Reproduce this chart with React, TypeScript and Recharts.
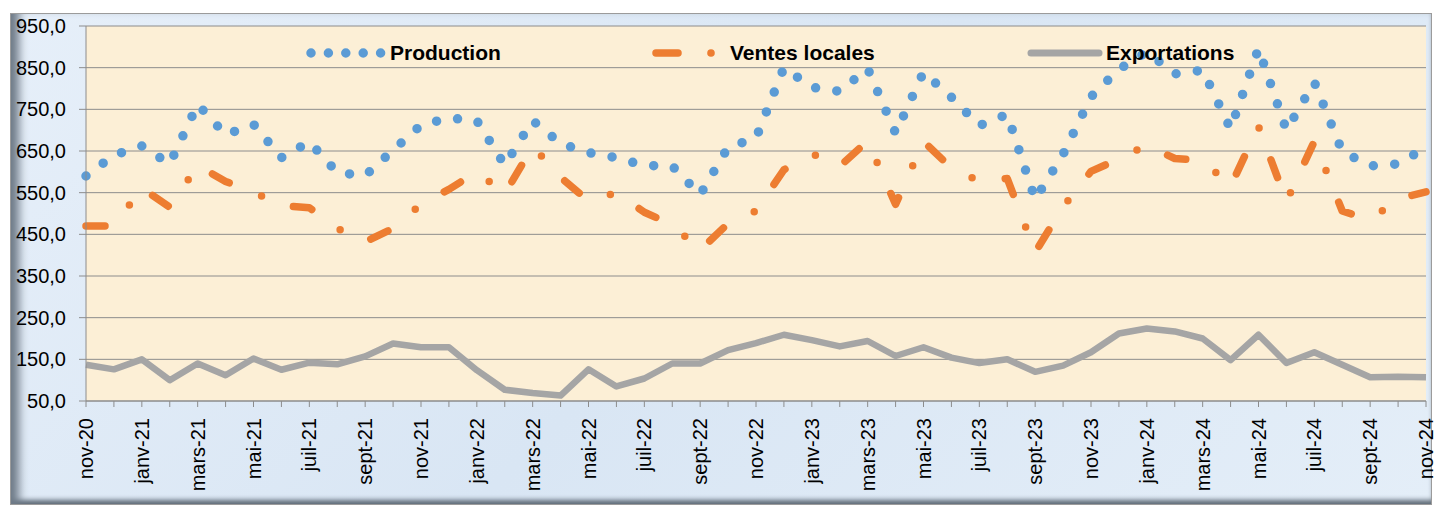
import React from "react";
import { LineChart, Line, XAxis, YAxis, CartesianGrid } from "recharts";

const months = [
  "nov-20", "déc-20", "janv-21", "févr-21", "mars-21", "avr-21", "mai-21", "juin-21", "juil-21", "août-21",
  "sept-21", "oct-21", "nov-21", "déc-21", "janv-22", "févr-22", "mars-22", "avr-22", "mai-22", "juin-22",
  "juil-22", "août-22", "sept-22", "oct-22", "nov-22", "déc-22", "janv-23", "févr-23", "mars-23", "avr-23",
  "mai-23", "juin-23", "juil-23", "août-23", "sept-23", "oct-23", "nov-23", "déc-23", "janv-24", "févr-24",
  "mars-24", "avr-24", "mai-24", "juin-24", "juil-24", "août-24", "sept-24", "oct-24", "nov-24",
];

const production = [
  590, 640, 662, 619, 762, 689, 714, 634, 672, 598,
  591, 652, 712, 729, 723, 616, 723, 668, 646, 634,
  615, 614, 545, 659, 681, 850, 803, 793, 848, 693,
  839, 779, 711, 738, 534, 642, 780, 846, 888, 835,
  844, 703, 896, 700, 815, 649, 614, 619, 658,
];

const ventesLocales = [
  470, 470, 561, 515, 615, 577, 551, 519, 514, 464,
  432, 464, 522, 558, 600, 547, 661, 587, 530, 550,
  503, 473, 412, 476, 506, 605, 644, 613, 674, 522,
  673, 609, 578, 584, 407, 516, 601, 631, 664, 632,
  628, 565, 709, 529, 673, 506, 485, 535, 552,
];

const exportations = [
  137, 126, 150, 100, 140, 112, 152, 125, 142, 138,
  157, 188, 179, 179, 124, 77, 69, 63, 126, 85,
  104, 140, 140, 172, 189, 209, 196, 181, 194, 158,
  179, 154, 141, 150, 120, 135, 167, 212, 224, 217,
  200, 148, 209, 141, 167, 137, 107, 108, 107,
];

const yTicks = [50, 150, 250, 350, 450, 550, 650, 750, 850, 950];

const FONT = "'Liberation Sans', Arial, sans-serif";
const BLUE = "#5b9bd5";
const ORANGE = "#ed7d31";
const GRAY = "#a5a5a5";

const data = months.map((m, i) => ({
  month: m,
  production: production[i],
  ventes: ventesLocales[i],
  exportations: exportations[i],
}));

// rotated month labels, only every second month gets text
function MonthTick(props: any) {
  const { x, y, payload, index } = props;
  if (index % 2 !== 0) return <g />;
  const ty = y + 9;
  return (
    <text
      x={x}
      y={ty}
      transform={`rotate(-90 ${x} ${ty})`}
      textAnchor="end"
      dominantBaseline="central"
      fontSize={20}
      fontFamily={FONT}
      fill="#000"
    >
      {payload.value}
    </text>
  );
}

function LegendOverlay() {
  const ty = 60;
  const txt = { fontSize: 21, fontWeight: "bold" as const, fontFamily: FONT, fill: "#000" };
  return (
    <svg
      width={1434}
      height={80}
      style={{ position: "absolute", left: 0, top: 0, pointerEvents: "none" }}
    >
      <line x1={311} y1={53} x2={381} y2={53} stroke={BLUE} strokeWidth={9.5}
        strokeLinecap="round" strokeDasharray="0 17.4" />
      <text x={390} y={ty} {...txt}>Production</text>

      <line x1={656} y1={53} x2={678} y2={53} stroke={ORANGE} strokeWidth={7.5} strokeLinecap="round" />
      <circle cx={711} cy={53} r={3.8} fill={ORANGE} />
      <text x={730} y={ty} {...txt}>Ventes locales</text>

      <line x1={1031} y1={53} x2={1099} y2={53} stroke={GRAY} strokeWidth={7} strokeLinecap="round" />
      <text x={1106} y={ty} {...txt}>Exportations</text>
    </svg>
  );
}

export default function App() {
  return (
    <div style={{ position: "absolute", left: 0, top: 0, width: 1434, height: 510, background: "#fff" }}>
      {/* frame */}
      <div
        style={{
          position: "absolute",
          left: 10,
          top: 13,
          width: 1422,
          height: 492,
          boxSizing: "border-box",
          background: "linear-gradient(135deg, #e6eff9 0%, #d9e6f4 50%, #e4eef8 100%)",
          border: "1px solid #9b9b9b",
          boxShadow: "inset 14px 0 10px -6px #6f7b88, inset 0 -6px 5px -2px #5f6a76",
        }}
      />
      <div style={{ position: "absolute", left: 0, top: 0 }}>
        <LineChart
          width={1434}
          height={510}
          data={data}
          margin={{ top: 26, right: 8, left: 0, bottom: 0 }}
        >
          <CartesianGrid
            vertical={false}
            stroke="#8c8c8c"
            strokeWidth={1}
            fill="#fcefd6"
            fillOpacity={1}
          />
          <XAxis
            dataKey="month"
            interval={0}
            height={109}
            tick={<MonthTick />}
            tickSize={6}
            tickLine={{ stroke: "#8c8c8c" }}
            axisLine={{ stroke: "#8c8c8c" }}
          />
          <YAxis
            width={86}
            domain={[50, 950]}
            ticks={yTicks}
            interval={0}
            tickSize={7}
            tickMargin={13}
            tickLine={{ stroke: "#8c8c8c" }}
            axisLine={{ stroke: "#8c8c8c" }}
            tick={{ fill: "#000", fontSize: 20, fontFamily: FONT }}
            tickFormatter={(v: number) => v.toFixed(1).replace(".", ",")}
          />
          <Line
            type="linear"
            dataKey="exportations"
            stroke={GRAY}
            strokeWidth={6.5}
            strokeLinejoin="round"
            dot={false}
            activeDot={false}
            isAnimationActive={false}
          />
          <Line
            type="linear"
            dataKey="ventes"
            stroke={ORANGE}
            strokeWidth={7.5}
            strokeLinecap="round"
            strokeLinejoin="round"
            strokeDasharray="19 35 0 34"
            dot={false}
            activeDot={false}
            isAnimationActive={false}
          />
          <Line
            type="linear"
            dataKey="production"
            stroke={BLUE}
            strokeWidth={9.5}
            strokeLinecap="round"
            strokeLinejoin="round"
            strokeDasharray="0 21.4"
            dot={false}
            activeDot={false}
            isAnimationActive={false}
          />
        </LineChart>
      </div>
      <LegendOverlay />
    </div>
  );
}
